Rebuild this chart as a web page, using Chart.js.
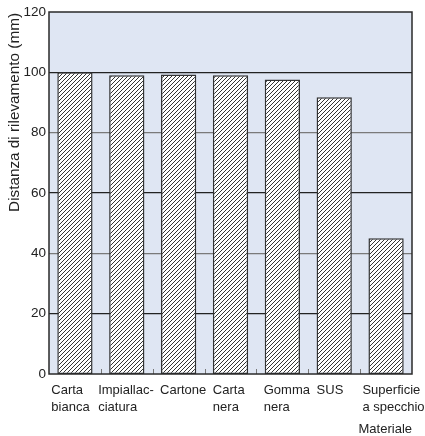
<!DOCTYPE html>
<html>
<head>
<meta charset="utf-8">
<script src="https://cdn.jsdelivr.net/npm/chart.js@4"></script>
<style>
  html, body { margin: 0; padding: 0; background: #fff; }
  #wrap { width: 425px; height: 436px; }
</style>
</head>
<body>
<div id="wrap"><canvas id="chart" width="425" height="436"></canvas></div>
<script>
// data
const categories = [
  ['Carta', 'bianca'],
  ['Impiallac-', 'ciatura'],
  ['Cartone'],
  ['Carta', 'nera'],
  ['Gomma', 'nera'],
  ['SUS'],
  ['Superficie', 'a specchio']
];
const distances = [100, 99, 99.3, 99, 97.6, 91.7, 45];
const yTicks = [0, 20, 40, 60, 80, 100, 120];
const yTitle = 'Distanza di rilevamento (mm)';
const xTitle = 'Materiale';

// layout only: label nudge relative to bar left edge (px)
const labelNudge = [-6, -11, -1, 0, -1, 0, -6];

const FONT = '"Liberation Sans", Arial, sans-serif';
const TEXT = '#222';

function hatch(){
  const c = document.createElement('canvas');
  c.width = 4; c.height = 4;
  const g = c.getContext('2d');
  g.fillStyle = '#fff';
  g.fillRect(0, 0, 4, 4);
  g.strokeStyle = '#333';
  g.lineWidth = 1;
  g.beginPath();
  g.moveTo(-1, 5); g.lineTo(5, -1);
  g.moveTo(-1, 1); g.lineTo(1, -1);
  g.moveTo(3, 5); g.lineTo(5, 3);
  g.stroke();
  return g.createPattern(c, 'repeat');
}

const frame = {
  id: 'frame',
  beforeDraw(chart){
    const {ctx, chartArea: a} = chart;
    ctx.save();
    ctx.fillStyle = '#dfe6f3';
    ctx.fillRect(a.left, a.top, a.right - a.left, a.bottom - a.top);
    ctx.restore();
  },
  afterDatasetsDraw(chart){
    const {ctx, chartArea: a, scales} = chart;
    const x = scales.x;
    ctx.save();
    // small ticks between categories
    ctx.strokeStyle = '#777';
    ctx.lineWidth = 1;
    for (let i = 0; i < categories.length - 1; i++){
      const px = Math.round((x.getPixelForValue(i) + x.getPixelForValue(i + 1)) / 2) + 0.5;
      ctx.beginPath();
      ctx.moveTo(px, a.bottom);
      ctx.lineTo(px, a.bottom - 5);
      ctx.stroke();
    }
    // frame
    ctx.strokeStyle = '#2a2a2a';
    ctx.lineWidth = 1.5;
    ctx.strokeRect(a.left, a.top, a.right - a.left, a.bottom - a.top);

    // category labels
    const meta = chart.getDatasetMeta(0);
    ctx.fillStyle = TEXT;
    ctx.font = '13px ' + FONT;
    ctx.textAlign = 'left';
    ctx.textBaseline = 'middle';
    categories.forEach((lines, i) => {
      const bar = meta.data[i];
      const left = bar.x - bar.width / 2 + labelNudge[i];
      lines.forEach((t, j) => ctx.fillText(t, left, a.bottom + 16 + j * 17));
    });
    // axis titles
    ctx.textAlign = 'right';
    ctx.fillText(xTitle, a.right, a.bottom + 55);
    ctx.save();
    ctx.translate(15, 13);
    ctx.rotate(-Math.PI / 2);
    ctx.font = '15.3px ' + FONT;
    ctx.textAlign = 'right';
    ctx.fillText(yTitle, 0, 0);
    ctx.restore();
    ctx.restore();
  }
};

new Chart(document.getElementById('chart'), {
  type: 'bar',
  data: {
    labels: categories,
    datasets: [{
      data: distances,
      backgroundColor: hatch(),
      borderColor: '#333',
      borderWidth: 1.5,
      borderSkipped: false,
      categoryPercentage: 1,
      barPercentage: 0.68
    }]
  },
  options: {
    responsive: false,
    animation: false,
    layout: { padding: { top: 12, right: 13, bottom: 62, left: 0 } },
    plugins: { legend: { display: false }, tooltip: { enabled: false } },
    scales: {
      x: { display: false },
      y: {
        min: 0, max: 120,
        afterFit(s){ s.width = 49; },
        afterBuildTicks(s){ s.ticks = yTicks.map(v => ({ value: v })); },
        border: { display: false },
        grid: {
          drawTicks: false,
          color: c => (c.tick && (c.tick.value === 40 || c.tick.value === 80)) ? '#7a7a7a' : '#222',
          lineWidth: c => (c.tick && (c.tick.value === 0 || c.tick.value === 120)) ? 0 : 1.2
        },
        ticks: { padding: 3, color: TEXT, font: { family: FONT, size: 13.5 } }
      }
    }
  },
  plugins: [frame]
});
</script>
</body>
</html>
